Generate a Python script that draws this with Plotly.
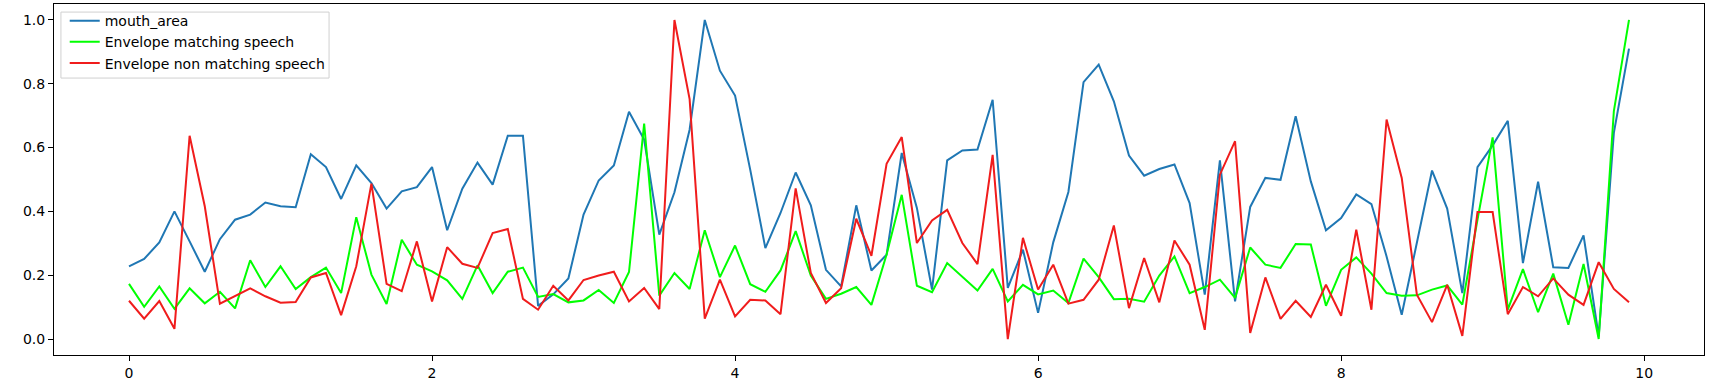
import plotly.graph_objects as go

t = [round(i * 0.1, 1) for i in range(100)]

mouth_area = [
    0.228, 0.251, 0.303, 0.400, 0.306, 0.211, 0.313, 0.374, 0.390, 0.428,
    0.416, 0.413, 0.579, 0.539, 0.439, 0.544, 0.489, 0.409, 0.463, 0.476,
    0.539, 0.341, 0.471, 0.553, 0.484, 0.637, 0.637, 0.104, 0.140, 0.190,
    0.390, 0.497, 0.544, 0.712, 0.625, 0.327, 0.460, 0.656, 1.000, 0.841,
    0.763, 0.531, 0.285, 0.395, 0.522, 0.419, 0.217, 0.165, 0.419, 0.215,
    0.264, 0.583, 0.411, 0.155, 0.560, 0.591, 0.594, 0.750, 0.160, 0.280,
    0.082, 0.303, 0.461, 0.805, 0.860, 0.745, 0.575, 0.512, 0.533, 0.547,
    0.426, 0.139, 0.560, 0.118, 0.414, 0.505, 0.499, 0.698, 0.494, 0.341,
    0.379, 0.453, 0.423, 0.259, 0.076, 0.301, 0.528, 0.409, 0.144, 0.539,
    0.607, 0.684, 0.238, 0.493, 0.225, 0.223, 0.325, 0.008, 0.646, 0.910,
]

env_matching = [
    0.173, 0.101, 0.165, 0.095, 0.159, 0.112, 0.148, 0.096, 0.247, 0.163,
    0.228, 0.157, 0.194, 0.224, 0.144, 0.382, 0.202, 0.110, 0.311, 0.233,
    0.212, 0.184, 0.126, 0.231, 0.144, 0.211, 0.224, 0.132, 0.141, 0.115,
    0.121, 0.154, 0.113, 0.210, 0.675, 0.136, 0.207, 0.157, 0.341, 0.194,
    0.293, 0.172, 0.148, 0.215, 0.338, 0.199, 0.126, 0.142, 0.163, 0.107,
    0.265, 0.452, 0.167, 0.147, 0.238, 0.194, 0.152, 0.220, 0.118, 0.170,
    0.140, 0.152, 0.113, 0.252, 0.194, 0.125, 0.126, 0.117, 0.199, 0.259,
    0.144, 0.163, 0.186, 0.129, 0.287, 0.233, 0.223, 0.298, 0.296, 0.104,
    0.217, 0.256, 0.205, 0.144, 0.136, 0.137, 0.155, 0.168, 0.108, 0.374,
    0.632, 0.092, 0.219, 0.084, 0.205, 0.045, 0.235, 0.000, 0.714, 1.000,
]

env_non_matching = [
    0.120, 0.064, 0.119, 0.032, 0.637, 0.416, 0.111, 0.136, 0.159, 0.134,
    0.114, 0.116, 0.193, 0.207, 0.075, 0.228, 0.487, 0.173, 0.150, 0.306,
    0.118, 0.288, 0.236, 0.223, 0.332, 0.345, 0.126, 0.092, 0.167, 0.121,
    0.185, 0.199, 0.211, 0.118, 0.160, 0.094, 1.000, 0.752, 0.064, 0.186,
    0.071, 0.123, 0.121, 0.078, 0.472, 0.207, 0.113, 0.159, 0.377, 0.261,
    0.549, 0.633, 0.301, 0.372, 0.405, 0.301, 0.235, 0.577, 0.000, 0.317,
    0.155, 0.233, 0.111, 0.123, 0.186, 0.356, 0.097, 0.254, 0.115, 0.309,
    0.233, 0.029, 0.515, 0.620, 0.019, 0.193, 0.063, 0.120, 0.069, 0.170,
    0.073, 0.343, 0.092, 0.688, 0.505, 0.139, 0.053, 0.170, 0.010, 0.398,
    0.398, 0.078, 0.163, 0.134, 0.190, 0.139, 0.107, 0.241, 0.157, 0.115,
]

x_ticks = [0, 2, 4, 6, 8, 10]
y_ticks = [0.0, 0.2, 0.4, 0.6, 0.8, 1.0]

fig = go.Figure()
fig.add_trace(go.Scatter(x=t, y=mouth_area, mode="lines", name="mouth_area",
                         line=dict(color="#1f77b4", width=2)))
fig.add_trace(go.Scatter(x=t, y=env_matching, mode="lines", name="Envelope matching speech",
                         line=dict(color="#00ff00", width=2)))
fig.add_trace(go.Scatter(x=t, y=env_non_matching, mode="lines", name="Envelope non matching speech",
                         line=dict(color="rgba(240, 28, 28, 1)", width=2)))

axis_style = dict(
    showgrid=False,
    zeroline=False,
    showline=True,
    linecolor="black",
    linewidth=1,
    mirror=True,
    ticks="outside",
    ticklen=5,
    tickwidth=1,
    tickcolor="black",
    automargin=False,
    tickfont=dict(family="DejaVu Sans", size=14, color="black"),
)

fig.update_xaxes(range=[-0.495, 10.395], tickvals=x_ticks,
                 ticktext=[str(v) for v in x_ticks], **axis_style)
fig.update_yaxes(range=[-0.05, 1.05], tickvals=y_ticks,
                 ticktext=[f"{v:.1f}" for v in y_ticks], **axis_style)

# legend frame drawn as a shape so the entries can sit closer to its top edge
fig.add_shape(type="rect", xref="paper", yref="paper",
              x0=0.0042, x1=0.1667, y0=0.789, y1=0.977,
              line=dict(color="#d0d0d0", width=1),
              fillcolor="rgba(255, 255, 255, 0.8)", layer="above")

fig.update_layout(
    width=1721,
    height=389,
    margin=dict(l=54, r=17, t=4, b=34),
    plot_bgcolor="white",
    paper_bgcolor="white",
    font=dict(family="DejaVu Sans", size=14, color="black"),
    showlegend=True,
    legend=dict(
        x=0.0065, y=0.997, xanchor="left", yanchor="top",
        bgcolor="rgba(0, 0, 0, 0)",
        borderwidth=0,
        font=dict(family="DejaVu Sans", size=14, color="black"),
        tracegroupgap=0,
        itemwidth=30,
    ),
)

fig.write_html("out.html", config={"displayModeBar": False},
               post_script="document.body.style.margin = '0';")
